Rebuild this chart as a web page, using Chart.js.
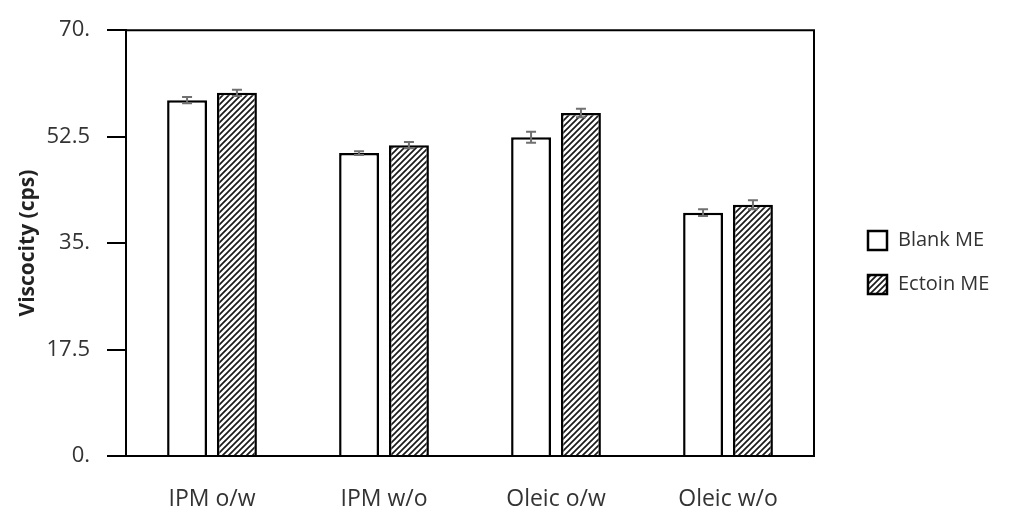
<!DOCTYPE html>
<html>
<head>
<meta charset="utf-8">
<script src="https://cdn.jsdelivr.net/npm/chart.js@4/dist/chart.umd.min.js"></script>
<style>
  html, body { margin: 0; padding: 0; background: #fff; }
  #wrap { width: 1011px; height: 512px; position: relative; }
</style>
</head>
<body>
<div id="wrap"><canvas id="c" width="1011" height="512"></canvas></div>
<script>
// Formulation groups
const categories = ['IPM o/w', 'IPM w/o', 'Oleic o/w', 'Oleic w/o'];
// Mean viscosity (cps) and standard deviation per formulation
const blankValues = [58.5, 49.8, 52.4, 40.0];
const blankErrors = [0.5, 0.3, 0.9, 0.55];
const ectoinValues = [59.7, 51.1, 56.4, 41.3];
const ectoinErrors = [0.5, 0.5, 0.7, 0.75];
const seriesNames = ['Blank ME', 'Ectoin ME'];
// Y axis tick labels from 0 to 70 in steps of 17.5
const yTickLabels = ['0.', '17.5', '35.', '52.5', '70.'];

const FONT = '"Open Sans", "Noto Sans", sans-serif';
const TEXT = '#333333';

// Diagonal hatch fill for the ectoin series
function makeHatch() {
  const s = 6;
  const p = document.createElement('canvas');
  p.width = s; p.height = s;
  const g = p.getContext('2d');
  g.fillStyle = '#ffffff';
  g.fillRect(0, 0, s, s);
  g.strokeStyle = '#1a1a1a';
  g.lineWidth = 1.7;
  g.beginPath();
  g.moveTo(-1, s + 1); g.lineTo(s + 1, -1);
  g.moveTo(-1, 1); g.lineTo(1, -1);
  g.moveTo(s - 1, s + 1); g.lineTo(s + 1, s - 1);
  g.stroke();
  return g.createPattern(p, 'repeat');
}
const hatch = makeHatch();

// Error bars drawn at each bar using the chart's own scales
const errorBars = {
  id: 'errorBars',
  afterDatasetsDraw(chart) {
    const ctx = chart.ctx;
    const y = chart.scales.y;
    ctx.save();
    ctx.strokeStyle = '#707070';
    ctx.lineWidth = 2;
    chart.data.datasets.forEach((ds, di) => {
      const meta = chart.getDatasetMeta(di);
      meta.data.forEach((bar, i) => {
        const v = ds.data[i], e = ds.errors[i];
        const x = bar.x;
        const yTop = y.getPixelForValue(v + e);
        const yBot = y.getPixelForValue(v - e);
        const cap = 5;
        ctx.beginPath();
        ctx.moveTo(x, yTop); ctx.lineTo(x, yBot);
        ctx.moveTo(x - cap, yTop); ctx.lineTo(x + cap, yTop);
        ctx.moveTo(x - cap, yBot); ctx.lineTo(x + cap, yBot);
        ctx.stroke();
      });
    });
    ctx.restore();
  }
};

// Frame around the plotting area
const frame = {
  id: 'frame',
  afterDraw(chart) {
    const a = chart.chartArea;
    const ctx = chart.ctx;
    ctx.save();
    ctx.strokeStyle = '#000';
    ctx.lineWidth = 2;
    ctx.beginPath();
    ctx.moveTo(a.left, a.top);
    ctx.lineTo(a.right, a.top);
    ctx.lineTo(a.right, a.bottom);
    ctx.stroke();
    ctx.restore();
  }
};

// Legend at the right of the plot
const sideLegend = {
  id: 'sideLegend',
  afterDraw(chart) {
    const ctx = chart.ctx;
    const x0 = 867, size = 21;
    const ys = [230, 274];
    ctx.save();
    chart.data.datasets.forEach((ds, i) => {
      const yb = ys[i];
      ctx.fillStyle = ds.backgroundColor;
      ctx.fillRect(x0, yb, size, size);
      ctx.strokeStyle = '#000';
      ctx.lineWidth = 2.5;
      ctx.strokeRect(x0 + 1, yb + 1, size - 2, size - 2);
      ctx.fillStyle = TEXT;
      ctx.font = '20px ' + FONT;
      ctx.textBaseline = 'middle';
      ctx.textAlign = 'left';
      ctx.fillText(ds.label, 898, yb + size / 2);
    });
    ctx.restore();
  }
};

new Chart(document.getElementById('c'), {
  type: 'bar',
  data: {
    labels: categories,
    datasets: [
      {
        label: seriesNames[0],
        data: blankValues,
        errors: blankErrors,
        backgroundColor: '#ffffff',
        borderColor: '#000000',
        borderWidth: 2.5,
        categoryPercentage: 0.58,
        barPercentage: 0.8
      },
      {
        label: seriesNames[1],
        data: ectoinValues,
        errors: ectoinErrors,
        backgroundColor: hatch,
        borderColor: '#000000',
        borderWidth: 2.5,
        categoryPercentage: 0.58,
        barPercentage: 0.8
      }
    ]
  },
  options: {
    responsive: false,
    animation: false,
    devicePixelRatio: 1,
    layout: { padding: { left: 0, right: 197, top: 29, bottom: 0 } },
    plugins: {
      legend: { display: false },
      tooltip: { enabled: false }
    },
    scales: {
      x: {
        afterFit(scale) { scale.height = 56; },
        grid: { display: false, drawTicks: false },
        border: { display: true, color: '#000', width: 2 },
        ticks: {
          color: TEXT,
          padding: 30,
          font: { family: FONT, size: 23 }
        }
      },
      y: {
        min: 0,
        max: 70,
        afterFit(scale) { scale.width = 126; },
        afterBuildTicks(scale) {
          scale.ticks = yTickLabels.map((_, i) => ({ value: i * 17.5 }));
        },
        grid: {
          drawOnChartArea: false,
          drawTicks: true,
          tickLength: 19,
          color: '#000',
          lineWidth: 2
        },
        border: { display: true, color: '#000', width: 2 },
        ticks: {
          color: TEXT,
          padding: 17,
          font: { family: FONT, size: 22 },
          callback: (v, i) => yTickLabels[i]
        },
        title: {
          display: true,
          text: 'Viscocity (cps)',
          color: '#222',
          font: { family: FONT, size: 21, weight: 'bold' },
          padding: { top: 15, bottom: 0 }
        }
      }
    }
  },
  plugins: [errorBars, frame, sideLegend]
});
</script>
</body>
</html>
